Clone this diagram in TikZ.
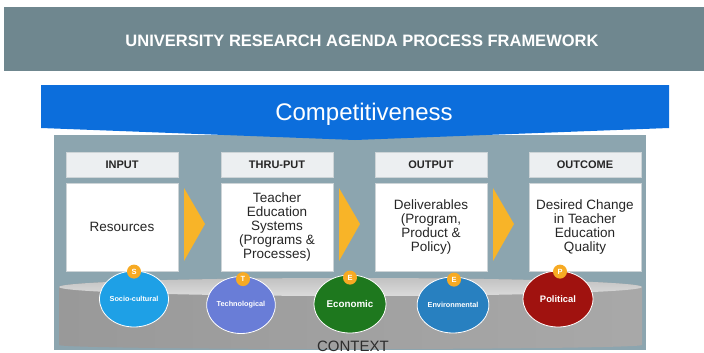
\documentclass[tikz,border=0pt]{standalone}
\usepackage{fontspec}
\setmainfont{Liberation Sans}
\usetikzlibrary{shapes.geometric,calc}

\definecolor{bannergray}{RGB}{111,135,143}
\definecolor{compblue}{RGB}{12,110,220}
\definecolor{panelblue}{RGB}{140,165,175}
\definecolor{arroworange}{RGB}{248,180,40}
\definecolor{headfill}{RGB}{236,239,241}
\definecolor{boxline}{RGB}{205,212,215}
\definecolor{socio}{RGB}{30,160,230}
\definecolor{techno}{RGB}{105,125,215}
\definecolor{econ}{RGB}{30,120,30}
\definecolor{envir}{RGB}{40,128,192}
\definecolor{polit}{RGB}{160,18,15}
\definecolor{badgeorange}{RGB}{247,170,35}
\definecolor{contextgray}{RGB}{45,45,45}

\tikzset{
  headbox/.style={draw=boxline, line width=0.6pt, fill=headfill,
    minimum width=112pt, minimum height=25pt, inner sep=0pt,
    font=\fontsize{11}{12}\selectfont\bfseries, text=black!85},
  bodybox/.style={draw=boxline, line width=0.6pt, fill=white,
    minimum width=112pt, minimum height=88pt, inner sep=0pt, align=center,
    font=\fontsize{13.5}{13.8}\selectfont, text=black!85},
  flowtip/.style={fill=arroworange},
  factor/.style={ellipse, draw=white, line width=0.8pt, inner sep=0pt,
    text=white, font=\fontsize{7.3}{8}\selectfont\bfseries},
  badge/.style={circle, fill=badgeorange, inner sep=0pt, minimum size=14pt,
    text=white, font=\fontsize{7.5}{7.5}\selectfont\bfseries}
}

\begin{document}
\begin{tikzpicture}[x=1pt,y=-1pt]
\useasboundingbox (0,0) rectangle (704,353);

% title banner
\fill[bannergray] (4,7) rectangle (704,71);
\node[text=white, font=\fontsize{16.5}{18}\selectfont\bfseries] (title) at (362,41)
  {UNIVERSITY RESEARCH AGENDA PROCESS FRAMEWORK};

% framework panel
\fill[panelblue] (54,135) rectangle (646,350);

% competitiveness band with its downward point
\fill[compblue] (41,85) -- (669,85) -- (669,128) -- (355,140) -- (41,128) -- cycle;
\node[text=white, font=\fontsize{24}{26}\selectfont] (comp) at (364,114) {Competitiveness};

% stage headers and contents
\node[headbox] (inH)  at (122,164.5) {INPUT};
\node[headbox] (thH)  at (277,164.5) {THRU-PUT};
\node[headbox] (outH) at (431,164.5) {OUTPUT};
\node[headbox] (ocH)  at (585,164.5) {OUTCOME};

\node[bodybox] (inB)  at (122,227) {Resources};
\node[bodybox] (thB)  at (277,227) {Teacher\\Education\\Systems\\(Programs \&\\Processes)};
\node[bodybox] (outB) at (431,227) {Deliverables\\(Program,\\Product \&\\Policy)};
\node[bodybox] (ocB)  at (585,227) {Desired Change\\in Teacher\\Education\\Quality};

% flow arrows between stages
\fill[flowtip] (184,188) -- (205,224) -- (184,261) -- cycle;
\fill[flowtip] (339,188) -- (360,224) -- (339,261) -- cycle;
\fill[flowtip] (493,188) -- (514,224) -- (493,261) -- cycle;

% context cylinder
\shade[left color=black!40, middle color=black!28, right color=black!34]
  (59,287) -- (59,345) arc[start angle=180, end angle=360, x radius=291.5pt, y radius=4pt]
  -- (642,287) arc[start angle=0, end angle=180, x radius=291.5pt, y radius=9pt] -- cycle;
\shade[top color=black!24, bottom color=black!14]
  (350.5,287) ellipse[x radius=291.5pt, y radius=9pt];
\node[text=contextgray, font=\fontsize{15}{16}\selectfont] (context) at (353,346) {CONTEXT};

% environmental factors
\node[factor, fill=socio,  minimum width=69pt, minimum height=56pt] (soc) at (134,299) {Socio-cultural};
\node[factor, fill=techno, minimum width=68pt, minimum height=57pt] (tec) at (241,305) {Technological};
\node[factor, fill=econ,   minimum width=72pt, minimum height=58pt, font=\fontsize{9.8}{10}\selectfont\bfseries] (eco) at (350,304) {Economic};
\node[factor, fill=envir,  minimum width=70pt, minimum height=56pt] (env) at (453,305) {Environmental};
\node[factor, fill=polit,  minimum width=70pt, minimum height=56pt, font=\fontsize{9.4}{10}\selectfont\bfseries] (pol) at (558,299) {Political};

\node[badge] (bS) at ($(soc.north)+(0,1)$) {S};
\node[badge] (bT) at ($(tec.north)+(2,3)$) {T};
\node[badge] (bE) at ($(eco.north)+(0,3)$) {E};
\node[badge] (bV) at ($(env.north)+(1,3)$) {E};
\node[badge] (bP) at ($(pol.north)+(2,1)$) {P};
\end{tikzpicture}
\end{document}
